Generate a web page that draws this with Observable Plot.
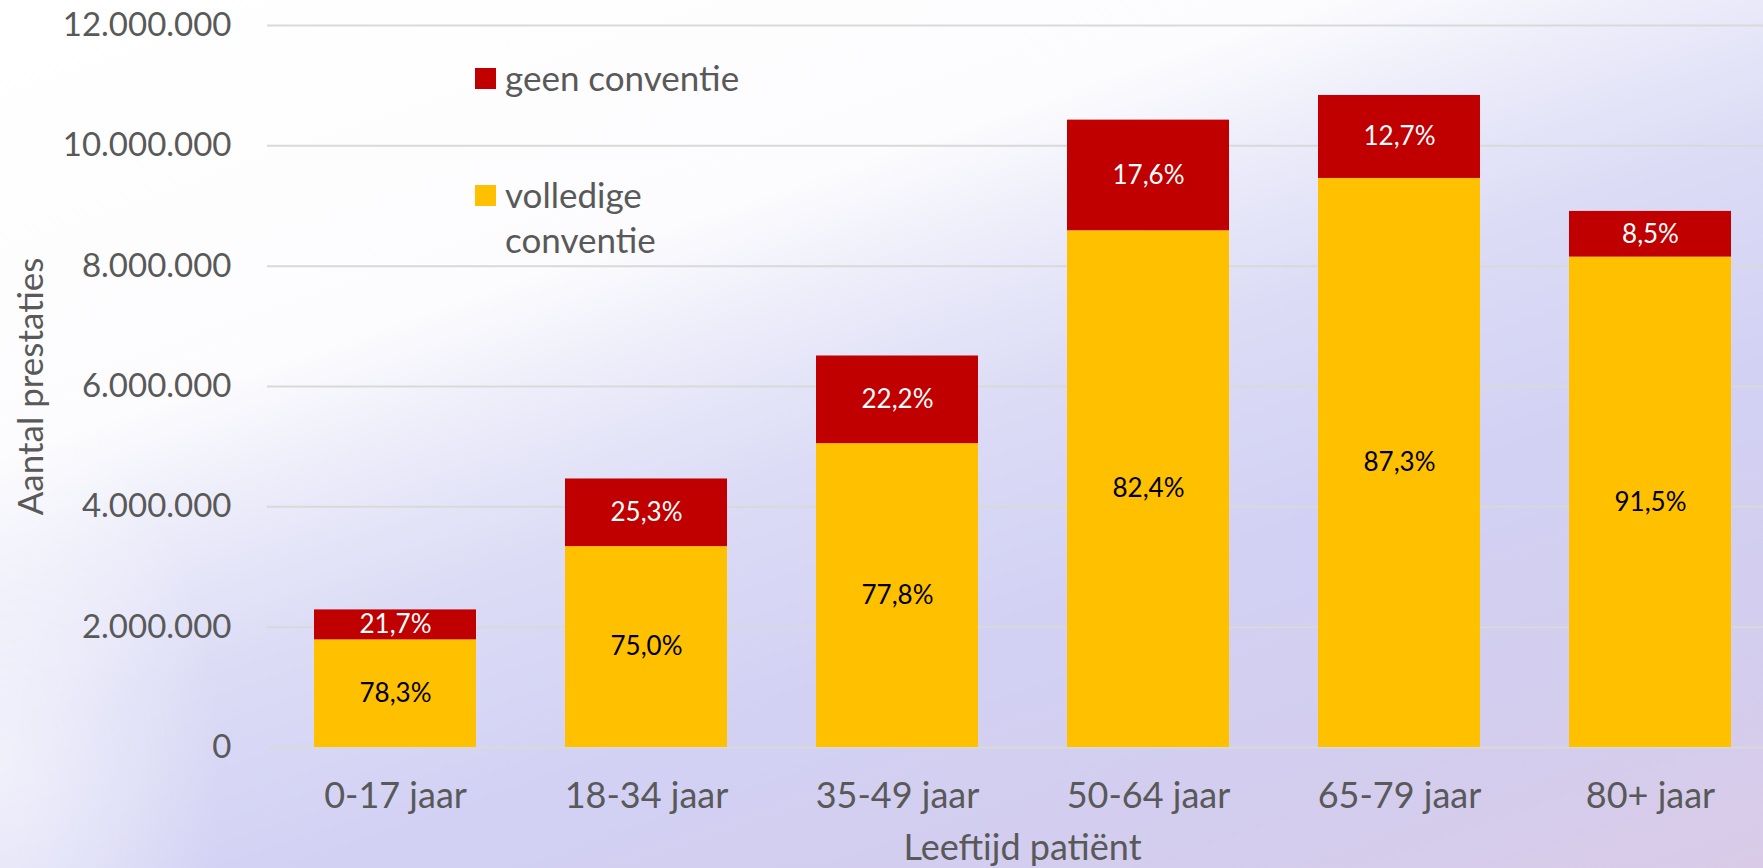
<!DOCTYPE html>
<html>
<head>
<meta charset="utf-8">
<script src="https://cdn.jsdelivr.net/npm/d3@7"></script>
<script src="https://cdn.jsdelivr.net/npm/@observablehq/plot@0.6"></script>
<style>
  html, body { margin: 0; padding: 0; }
  body { width: 1763px; height: 868px; overflow: hidden; }
  #wrap {
    position: relative; width: 1763px; height: 868px;
    background:
      radial-gradient(ellipse 220px 380px at 0% 88%, rgba(255,255,255,0.6), rgba(255,255,255,0) 100%),
      linear-gradient(161deg, #ffffff 0%, #fcfcfe 31%, #ebebfa 40%, #dcdcf6 50%, #d2d1f4 66%, #d3cdee 84%, #d9cbe8 100%);
    font-family: Lato, sans-serif;
  }
  #legend { position: absolute; left: 0; top: 0; color: #595959; font-size: 35px; }
  .li { position: absolute; display: flex; align-items: flex-start; }
  .sw { width: 21px; height: 21px; margin-right: 9px; }
</style>
</head>
<body>
<div id="wrap">
  <div id="chart"></div>
  <div id="legend"></div>
</div>
<script>
const ages = ["0-17 jaar", "18-34 jaar", "35-49 jaar", "50-64 jaar", "65-79 jaar", "80+ jaar"];
const volledige = [1789000, 3339000, 5050000, 8588000, 9458000, 8151000];
const geen = [498000, 1124000, 1457000, 1839000, 1379000, 759000];
const volledigeLabels = ["78,3%", "75,0%", "77,8%", "82,4%", "87,3%", "91,5%"];
const geenLabels = ["21,7%", "25,3%", "22,2%", "17,6%", "12,7%", "8,5%"];
const series = ["volledige conventie", "geen conventie"];
const seriesColors = ["#FFC000", "#C00000"];
const yTicks = [0, 2000000, 4000000, 6000000, 8000000, 10000000, 12000000];

const rows = [];
ages.forEach((a, i) => {
  rows.push({age: a, type: series[0], value: volledige[i], label: volledigeLabels[i]});
  rows.push({age: a, type: series[1], value: geen[i], label: geenLabels[i]});
});

const nl = d3.formatLocale({decimal: ",", thousands: ".", grouping: [3], currency: ["€", ""]});
const fmt = nl.format(",d");

const chart = Plot.plot({
  width: 1763,
  height: 868,
  marginTop: 25,
  marginBottom: 121,
  marginLeft: 267,
  marginRight: -14,
  style: {background: "transparent", fontFamily: "Lato, sans-serif", fontSize: "33px", color: "#595959"},
  x: {domain: ages, paddingInner: 0.356, paddingOuter: 0.178},
  y: {domain: [0, 12000000]},
  color: {domain: series, range: seriesColors},
  marks: [
    Plot.gridY(yTicks, {stroke: "#d9d9d9", strokeOpacity: 1, strokeWidth: 2}),
    Plot.barY(rows, {x: "age", y: "value", fill: "type", z: "type", order: series}),
    Plot.text(rows, Plot.stackY({x: "age", y: "value", z: "type", order: series, text: d => d.type === series[1] ? d.label : null, fill: "white", fontSize: 26, fontFamily: "Lato, sans-serif"})),
    Plot.text(rows, Plot.stackY({x: "age", y: "value", z: "type", order: series, text: d => d.type === series[0] ? d.label : null, fill: "black", fontSize: 26, fontFamily: "Lato, sans-serif"})),
    Plot.axisY({ticks: yTicks, tickFormat: fmt, tickSize: 0, tickPadding: 36, fontSize: 33, fill: "#595959",
      label: null}),
    Plot.axisY({ticks: [], tickSize: 0, fontSize: 35, fill: "#595959",
      label: "Aantal prestaties", labelAnchor: "center", labelArrow: "none", labelOffset: 249}),
    Plot.axisX({tickSize: 0, tickPadding: 35, fontSize: 36, fill: "#595959",
      label: "Leeftijd patiënt", labelAnchor: "center", labelArrow: "none", labelOffset: 112})
  ]
});
document.getElementById("chart").appendChild(chart);

const legendItems = [
  {name: "geen conventie", color: "#C00000", top: 58},
  {name: "volledige\nconventie", color: "#FFC000", top: 175}
];
const leg = document.getElementById("legend");
legendItems.forEach(it => {
  const d = document.createElement("div");
  d.className = "li";
  d.style.left = "475px";
  d.style.top = it.top + "px";
  const sw = document.createElement("div");
  sw.className = "sw";
  sw.style.background = it.color;
  sw.style.marginTop = "10px";
  const t = document.createElement("div");
  t.style.whiteSpace = "pre";
  t.style.lineHeight = "45px";
  t.style.marginTop = "-3px";
  t.textContent = it.name;
  d.appendChild(sw);
  d.appendChild(t);
  leg.appendChild(d);
});
</script>
</body>
</html>
